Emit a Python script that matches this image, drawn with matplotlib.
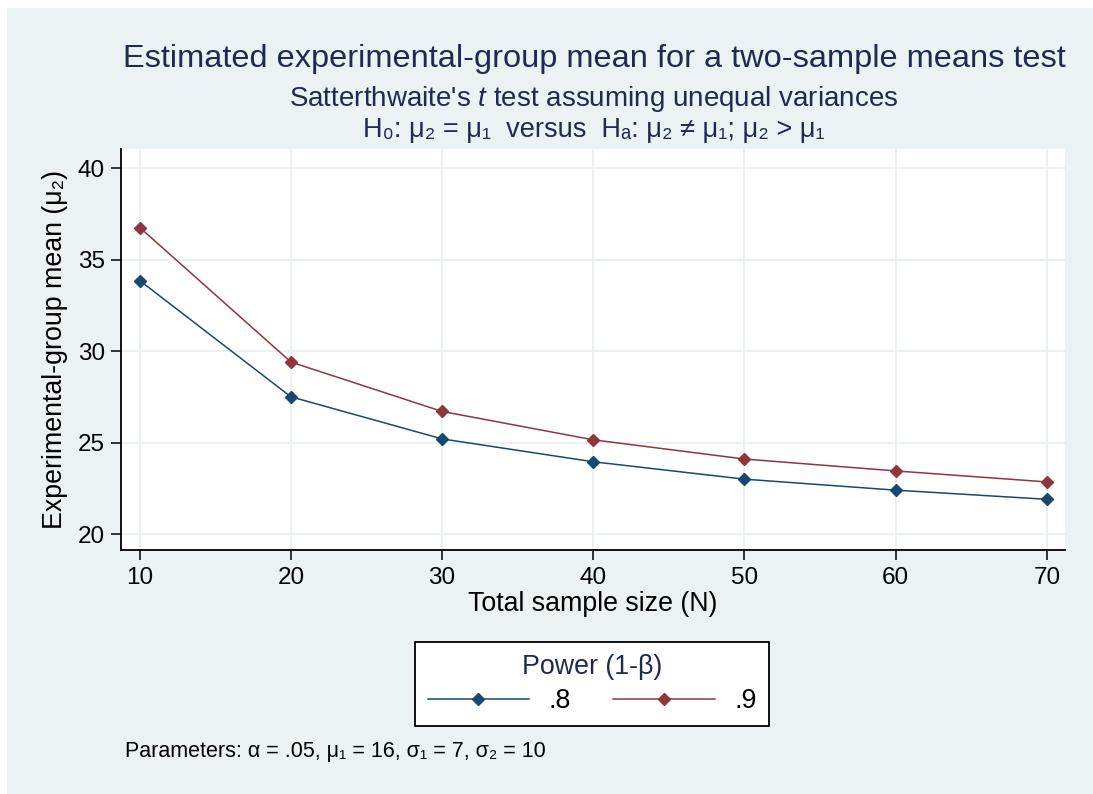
import matplotlib
matplotlib.use("Agg")
import matplotlib.pyplot as plt
from matplotlib.patches import Rectangle

# data
sample_size = [10, 20, 30, 40, 50, 60, 70]
mean_power_08 = [33.85, 27.5, 25.2, 23.95, 23.0, 22.4, 21.9]
mean_power_09 = [36.75, 29.4, 26.7, 25.15, 24.1, 23.45, 22.85]
series_labels = [".8", ".9"]
x_ticks = [10, 20, 30, 40, 50, 60, 70]
y_ticks = [20, 25, 30, 35, 40]

bg = "#eaf2f3"
blue = "#1a476f"
red = "#90353b"
title_col = "#1e2a4f"

plt.rcParams["font.family"] = ["Liberation Sans", "DejaVu Sans"]
plt.rcParams["mathtext.fontset"] = "custom"
plt.rcParams["mathtext.rm"] = "Liberation Sans"
plt.rcParams["mathtext.it"] = "Liberation Sans:italic"

W, H = 1093, 794
fig = plt.figure(figsize=(W / 100, H / 100), dpi=100)
fig.patch.set_facecolor("white")
fig.patches.append(Rectangle((7 / W, 0), 1 - 7 / W, 1 - 8 / H, transform=fig.transFigure,
                             facecolor=bg, edgecolor="none", zorder=-10))

# axes box in pixel coords
left, right, top, bottom = 121, 1065, 149, 550
ax = fig.add_axes([left / W, 1 - bottom / H, (right - left) / W, (bottom - top) / H])
ax.set_facecolor("white")

ax.plot(sample_size, mean_power_08, color=blue, lw=1.1, marker="D", ms=6.3,
        label=series_labels[0], zorder=3)
ax.plot(sample_size, mean_power_09, color=red, lw=1.1, marker="D", ms=6.3,
        label=series_labels[1], zorder=3)

ax.set_xlim(8.76, 71.2)
ax.set_ylim(19.13, 41.04)
ax.set_xticks(x_ticks)
ax.set_yticks(y_ticks)
ax.grid(True, color="#e6eef1", lw=1.2)
ax.set_axisbelow(True)
for s in ["top", "right"]:
    ax.spines[s].set_visible(False)
for s in ["left", "bottom"]:
    ax.spines[s].set_linewidth(1.3)
ax.tick_params(axis="both", length=7.5, width=1.1, labelsize=17.5)
ax.tick_params(axis="x", pad=5)
ax.tick_params(axis="y", pad=4)
ax.set_xlabel("Total sample size (N)", fontsize=19.3, labelpad=1)
ax.set_ylabel("Experimental-group mean (μ\u2082)", fontsize=19.3, labelpad=7)

fig.text(594 / W, 1 - 59 / H, "Estimated experimental-group mean for a two-sample means test",
         ha="center", va="center", fontsize=23.4, color=title_col)
fig.text(594 / W, 1 - 99 / H, r"Satterthwaite's $t$ test assuming unequal variances",
         ha="center", va="center", fontsize=20, color=title_col)
fig.text(594 / W, 1 - 130 / H,
         "H\u2080: μ\u2082 = μ\u2081  versus  H\u2090: μ\u2082 \u2260 μ\u2081; μ\u2082 > μ\u2081",
         ha="center", va="center", fontsize=19.5, color=title_col)

leg = fig.legend(loc="center", bbox_to_anchor=(592 / W, 1 - 684 / H), ncol=2,
                 title="Power (1-β)", fontsize=19.3, title_fontsize=19.3,
                 frameon=True, fancybox=False, edgecolor="black", facecolor="white",
                 framealpha=1, handlelength=3.8, columnspacing=1.6, borderpad=0.45,
                 labelspacing=0.3, handletextpad=0.7)
leg.get_frame().set_linewidth(1.3)
leg.get_title().set_color(title_col)

fig.text(125 / W, 1 - 752 / H,
         "Parameters: α = .05, μ\u2081 = 16, σ\u2081 = 7, σ\u2082 = 10",
         ha="left", va="center", fontsize=15.5)

fig.savefig("out.png", dpi=100)
